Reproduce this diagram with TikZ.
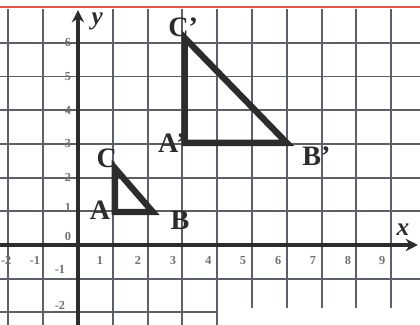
\documentclass[tikz,border=0pt]{standalone}
\usepackage{fontspec}
\setmainfont{Liberation Serif}
\usepackage{xcolor}
\usepackage{tikz}
\usetikzlibrary{arrows.meta}
\definecolor{GridGray}{HTML}{5C6168}
\definecolor{PaperRed}{HTML}{E0564C}
\definecolor{InkDark}{HTML}{2C2C2C}
\definecolor{TickGray}{HTML}{707070}
\tikzset{
  gridline/.style={GridGray,line width=1.1pt},
  axisline/.style={InkDark,line width=2pt,-{Stealth[length=7pt,width=7pt]}},
  figline/.style={InkDark,line width=3.6pt,line join=miter},
  ptlabel/.style={InkDark,font=\fontsize{16}{18}\selectfont\bfseries,inner sep=0pt},
  ticklabel/.style={TickGray,font=\fontsize{7}{8}\selectfont\bfseries,inner sep=0pt}
}
\begin{document}
\begin{tikzpicture}[x=0.696cm,y=0.674cm]
\path[use as bounding box] (-2.241,-2.374) rectangle (9.828,7.27);
\draw[gridline] (-2,-2.374) -- (-2,7.0);
\draw[gridline] (-1,-2.374) -- (-1,7.0);
\draw[gridline] (1,-2.374) -- (1,7.0);
\draw[gridline] (2,-2.374) -- (2,7.0);
\draw[gridline] (3,-2.374) -- (3,7.0);
\draw[gridline] (4,-2.374) -- (4,7.0);
\draw[gridline] (5,-1.87) -- (5,7.0);
\draw[gridline] (6,-1.87) -- (6,7.0);
\draw[gridline] (7,-1.87) -- (7,7.0);
\draw[gridline] (8,-1.87) -- (8,7.0);
\draw[gridline] (9,-1.87) -- (9,7.0);
\draw[gridline] (-2.241,6) -- (9.828,6);
\draw[gridline] (-2.241,5) -- (9.828,5);
\draw[gridline] (-2.241,4) -- (9.828,4);
\draw[gridline] (-2.241,3) -- (9.828,3);
\draw[gridline] (-2.241,2) -- (9.828,2);
\draw[gridline] (-2.241,1) -- (9.828,1);
\draw[gridline] (-2.241,-1) -- (9.828,-1);
\draw[gridline] (-2.241,-2) -- (4.0,-2);
\draw[PaperRed,line width=1.4pt] (-2.241,7.06) -- (9.828,7.06);
\coordinate (xstart) at (-2.241,0);
\coordinate (xend) at (9.77,0);
\coordinate (ystart) at (0,-2.374);
\coordinate (yend) at (0,6.97);
\draw[axisline] (xstart) -- (xend);
\draw[axisline] (ystart) -- (yend);
\node[InkDark,font=\Large\bfseries\itshape] (ylab) at (0.55,6.62) {y};
\node[InkDark,font=\Large\bfseries\itshape] (xlab) at (9.34,0.45) {x};
\node[ticklabel] (yt6) at (-0.29,6) {6};
\node[ticklabel] (yt5) at (-0.29,5) {5};
\node[ticklabel] (yt4) at (-0.29,4) {4};
\node[ticklabel] (yt3) at (-0.29,3) {3};
\node[ticklabel] (yt2) at (-0.29,2) {2};
\node[ticklabel] (yt1) at (-0.29,1.1) {1};
\node[ticklabel] (yt0) at (-0.29,0.24) {0};
\node[ticklabel] (ytm1) at (-0.52,-0.74) {-1};
\node[ticklabel] (ytm2) at (-0.52,-1.78) {-2};
\node[ticklabel,anchor=west] (xtm2) at (-2.22,-0.45) {-2};
\node[ticklabel] (xtm1) at (-1.24,-0.45) {-1};
\node[ticklabel] (xt1) at (0.63,-0.45) {1};
\node[ticklabel] (xt2) at (1.72,-0.45) {2};
\node[ticklabel] (xt3) at (2.73,-0.45) {3};
\node[ticklabel] (xt4) at (3.75,-0.45) {4};
\node[ticklabel] (xt5) at (4.74,-0.45) {5};
\node[ticklabel] (xt6) at (5.75,-0.45) {6};
\node[ticklabel] (xt7) at (6.75,-0.45) {7};
\node[ticklabel] (xt8) at (7.76,-0.45) {8};
\node[ticklabel] (xt9) at (8.74,-0.45) {9};
\coordinate (A) at (1.06,0.98);
\coordinate (B) at (2.15,0.98);
\coordinate (C) at (1.06,2.28);
\coordinate (Ap) at (3.07,3.03);
\coordinate (Bp) at (6.0,3.03);
\coordinate (Cp) at (3.07,6.14);
\draw[figline] (A) -- (B) -- (C) -- cycle;
\draw[figline] (Ap) -- (Bp) -- (Cp) -- cycle;
\node[ptlabel] (labA) at (0.63,1.04) {A};
\node[ptlabel] (labB) at (2.93,0.74) {B};
\node[ptlabel] (labC) at (0.83,2.58) {C};
\node[ptlabel] (labAp) at (2.7,3.02) {A’};
\node[ptlabel] (labBp) at (6.85,2.64) {B’};
\node[ptlabel] (labCp) at (3.02,6.47) {C’};
\end{tikzpicture}
\end{document}
